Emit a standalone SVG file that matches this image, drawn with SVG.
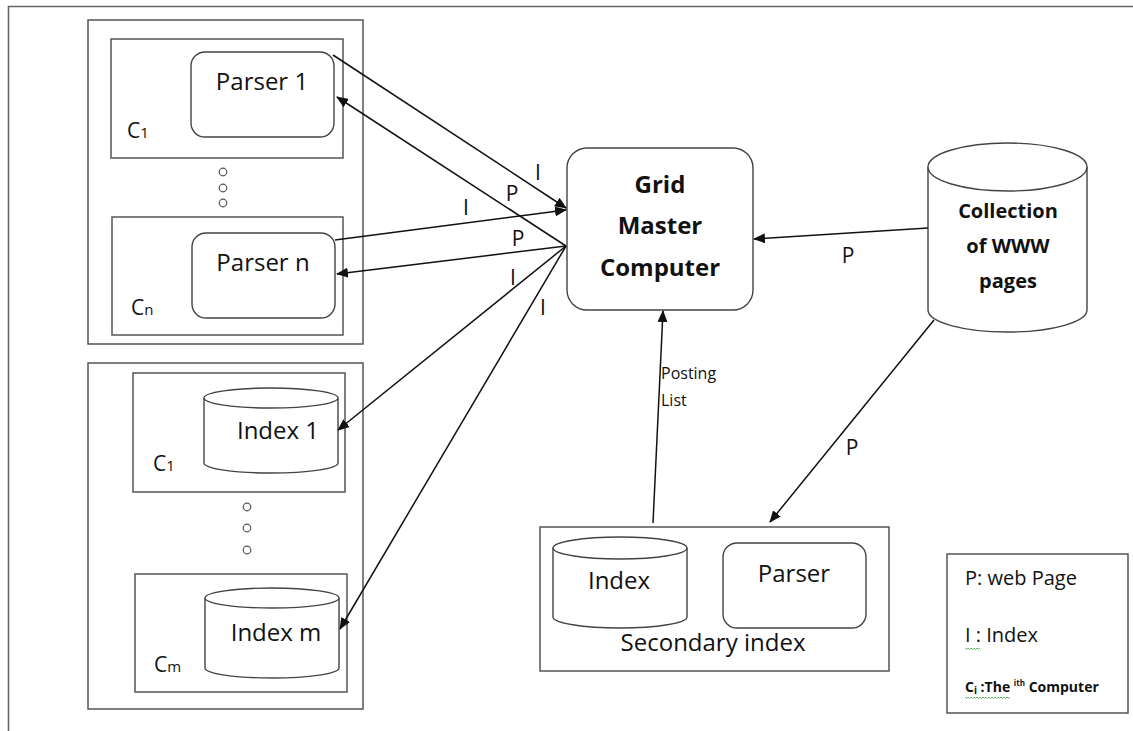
<svg xmlns="http://www.w3.org/2000/svg" width="1133" height="731" viewBox="0 0 1133 731">
  <style>
    .frame { fill: none; stroke: #666; stroke-width: 1.6; }
    .box { fill: #fff; stroke: #555; stroke-width: 1.5; }
    .shape { fill: #fff; stroke: #444; stroke-width: 1.4; }
    .dot { fill: #fff; stroke: #555; stroke-width: 1.2; }
    .edge { fill: none; stroke: #111; stroke-width: 1.5; }
    .t { font-family: "Open Sans", "Noto Sans", "Liberation Sans", sans-serif; fill: #111; }
    .name { font-size: 24px; }
    .lbl { font-size: 21px; }
    .bold { font-weight: bold; }
    .squig { fill: none; stroke: #4caf50; stroke-width: 0.9; }
  </style>
  <defs>
    <marker id="arrow" viewBox="0 0 12 10" refX="11" refY="5" markerWidth="12" markerHeight="10" markerUnits="userSpaceOnUse" orient="auto">
      <path d="M0,0 L12,5 L0,10 Z" fill="#111"/>
    </marker>
  </defs>

  <rect width="1133" height="731" fill="#fff"/>
  <!-- page frame (top and left edges) -->
  <path class="frame" d="M8.5,731 V6.5 H1133"/>

  <!-- parser cluster -->
  <g id="parser-cluster">
    <rect class="box" x="88" y="20" width="275" height="324"/>
    <g id="parser-c1">
      <rect class="box" x="111" y="39" width="232" height="119"/>
      <rect class="shape" x="191" y="52" width="143" height="85" rx="14"/>
      <text class="t name" x="262" y="90" text-anchor="middle">Parser 1</text>
      <text class="t" x="127" y="138" font-size="21">C<tspan font-size="15">1</tspan></text>
    </g>
    <circle class="dot" cx="223" cy="172" r="3.8"/>
    <circle class="dot" cx="223" cy="188" r="3.8"/>
    <circle class="dot" cx="223" cy="203" r="3.8"/>
    <g id="parser-cn">
      <rect class="box" x="112" y="217" width="231" height="118"/>
      <rect class="shape" x="192" y="233" width="143" height="85" rx="14"/>
      <text class="t name" x="263" y="271" text-anchor="middle">Parser n</text>
      <text class="t" x="131" y="315" font-size="21">C<tspan font-size="15">n</tspan></text>
    </g>
  </g>

  <!-- index cluster -->
  <g id="index-cluster">
    <rect class="box" x="88" y="363" width="275" height="346"/>
    <g id="index-c1">
      <rect class="box" x="133" y="373" width="212" height="119"/>
      <path class="shape" d="M204,398 A67,10 0 0 1 338,398 V463 A67,10 0 0 1 204,463 Z"/>
      <path class="shape" d="M204,398 A67,10 0 0 0 338,398"/>
      <text class="t name" x="278" y="439" text-anchor="middle">Index 1</text>
      <text class="t" x="153" y="471" font-size="21">C<tspan font-size="15">1</tspan></text>
    </g>
    <circle class="dot" cx="247" cy="507" r="3.8"/>
    <circle class="dot" cx="247" cy="528" r="3.8"/>
    <circle class="dot" cx="247" cy="550" r="3.8"/>
    <g id="index-cm">
      <rect class="box" x="135" y="574" width="212" height="118"/>
      <path class="shape" d="M205,598 A67,10 0 0 1 339,598 V668 A67,10 0 0 1 205,668 Z"/>
      <path class="shape" d="M205,598 A67,10 0 0 0 339,598"/>
      <text class="t name" x="276" y="641" text-anchor="middle">Index m</text>
      <text class="t" x="154" y="672" font-size="21">C<tspan font-size="15">m</tspan></text>
    </g>
  </g>

  <!-- master -->
  <g id="grid-master">
    <rect class="shape" x="567" y="148" width="186" height="162" rx="20"/>
    <text class="t bold" x="660" y="193" font-size="24" text-anchor="middle">Grid</text>
    <text class="t bold" x="660" y="234" font-size="24" text-anchor="middle">Master</text>
    <text class="t bold" x="660" y="276" font-size="24" text-anchor="middle">Computer</text>
  </g>

  <!-- web page store -->
  <g id="www-collection">
    <path class="shape" d="M928,167 A79.5,24 0 0 1 1087,167 V310 A79.5,22 0 0 1 928,310 Z"/>
    <path class="shape" d="M928,167 A79.5,24 0 0 0 1087,167"/>
    <text class="t bold" x="1008" y="218" font-size="20" text-anchor="middle">Collection</text>
    <text class="t bold" x="1008" y="253" font-size="20" text-anchor="middle">of WWW</text>
    <text class="t bold" x="1008" y="288" font-size="20" text-anchor="middle">pages</text>
  </g>

  <!-- secondary index -->
  <g id="secondary-index">
    <rect class="box" x="540" y="527" width="349" height="144"/>
    <path class="shape" d="M553,548 A67,11 0 0 1 687,548 V617 A67,11 0 0 1 553,617 Z"/>
    <path class="shape" d="M553,548 A67,11 0 0 0 687,548"/>
    <text class="t name" x="619" y="589" text-anchor="middle">Index</text>
    <rect class="shape" x="723" y="543" width="143" height="85" rx="14"/>
    <text class="t name" x="794" y="582" text-anchor="middle">Parser</text>
    <text class="t name" x="713" y="651" text-anchor="middle">Secondary index</text>
  </g>

  <!-- legend -->
  <g id="legend">
    <rect class="box" x="947" y="554" width="181" height="159"/>
    <text class="t" x="965" y="585" font-size="20">P: web Page</text>
    <text class="t" x="965" y="642" font-size="20">I : Index</text>
    <path class="squig" d="M965,648 l1.5,1.5 l1.5,-1.5 l1.5,1.5 l1.5,-1.5 l1.5,1.5 l1.5,-1.5 l1.5,1.5 l1.5,-1.5 l1.5,1.5 l1.5,-1.5"/>
    <text class="t bold" x="965" y="692" font-size="14">C<tspan font-size="10" dy="2">i</tspan><tspan dy="-2"> :The </tspan><tspan font-size="8" dy="-6">ith</tspan><tspan dy="6"> Computer</tspan></text>
    <path class="squig" d="M965,697 l1.5,1.5 l1.5,-1.5 l1.5,1.5 l1.5,-1.5 l1.5,1.5 l1.5,-1.5 l1.5,1.5 l1.5,-1.5 l1.5,1.5 l1.5,-1.5 l1.5,1.5 l1.5,-1.5 l1.5,1.5 l1.5,-1.5 l1.5,1.5 l1.5,-1.5 l1.5,1.5 l1.5,-1.5 l1.5,1.5 l1.5,-1.5 l1.5,1.5 l1.5,-1.5 l1.5,1.5 l1.5,-1.5 l1.5,1.5 l1.5,-1.5 l1.5,1.5 l1.5,-1.5 l1.5,1.5 l1.5,-1.5"/>
  </g>

  <!-- connectors -->
  <g id="connectors">
    <path class="edge" d="M333,55 L566,208" marker-end="url(#arrow)"/>
    <path class="edge" d="M566,246 L337,97" marker-end="url(#arrow)"/>
    <path class="edge" d="M335,240 L566,210" marker-end="url(#arrow)"/>
    <path class="edge" d="M566,246 L337,274" marker-end="url(#arrow)"/>
    <path class="edge" d="M566,246 L338,430" marker-end="url(#arrow)"/>
    <path class="edge" d="M566,246 L340,629" marker-end="url(#arrow)"/>
    <path class="edge" d="M928,228 L754,239" marker-end="url(#arrow)"/>
    <path class="edge" d="M934,320 L770,522" marker-end="url(#arrow)"/>
    <path class="edge" d="M653,523 L663,311" marker-end="url(#arrow)"/>

    <text class="t lbl" x="538" y="180" text-anchor="middle">I</text>
    <text class="t lbl" x="512" y="201" text-anchor="middle">P</text>
    <text class="t lbl" x="466" y="215" text-anchor="middle">I</text>
    <text class="t lbl" x="518" y="246" text-anchor="middle">P</text>
    <text class="t lbl" x="513" y="285" text-anchor="middle">I</text>
    <text class="t lbl" x="543" y="315" text-anchor="middle">I</text>
    <text class="t lbl" x="848" y="263" text-anchor="middle">P</text>
    <text class="t lbl" x="852" y="455" text-anchor="middle">P</text>
    <text class="t" x="661" y="379" font-size="16">Posting</text>
    <text class="t" x="661" y="406" font-size="16">List</text>
  </g>
</svg>
